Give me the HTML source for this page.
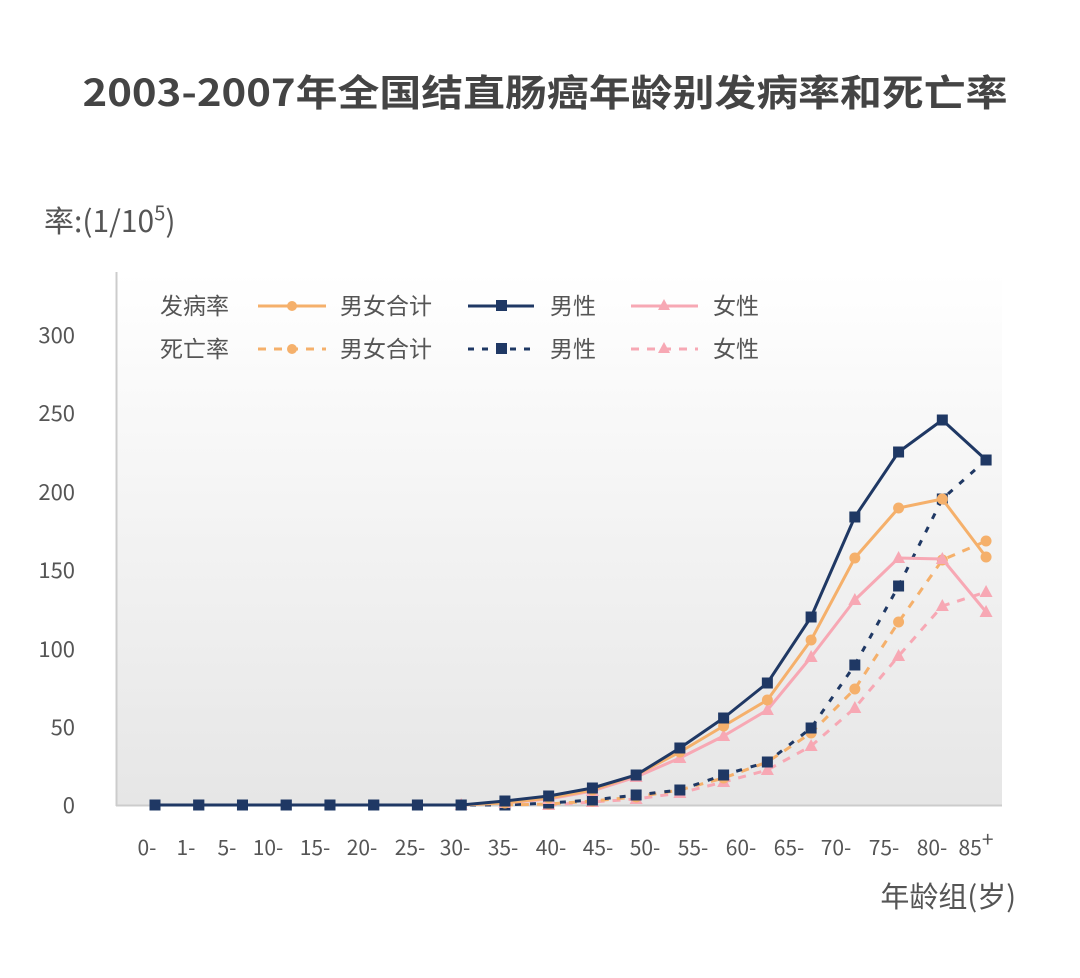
<!DOCTYPE html>
<html><head><meta charset="utf-8"><style>
body{margin:0;background:#fff;}
svg text{font-family:"Noto Sans CJK SC","Liberation Sans",sans-serif;fill:#555;}
</style></head><body>
<svg width="1080" height="973" viewBox="0 0 1080 973" xmlns="http://www.w3.org/2000/svg">
<defs><linearGradient id="g" x1="0" y1="0" x2="0" y2="1"><stop offset="0" stop-color="#ffffff"/><stop offset="1" stop-color="#e6e6e6"/></linearGradient></defs>
<text x="545" y="106" text-anchor="middle" font-size="37" font-weight="bold" textLength="925" lengthAdjust="spacingAndGlyphs" style="fill:#444">2003-2007年全国结直肠癌年龄别发病率和死亡率</text>
<text x="44" y="232" font-size="30" style="fill:#555">率:(1/10<tspan font-size="20" dy="-12">5</tspan><tspan dy="12">)</tspan></text>
<rect x="117" y="272" width="885" height="533" fill="url(#g)"/>
<line x1="116.5" y1="272" x2="116.5" y2="806" stroke="#ccc" stroke-width="2"/>
<line x1="116" y1="805.5" x2="1002" y2="805.5" stroke="#ccc" stroke-width="2"/>
<g font-size="22" text-anchor="end">
<text x="75" y="343">300</text><text x="75" y="421">250</text><text x="75" y="500">200</text><text x="75" y="578">150</text><text x="75" y="657">100</text><text x="75" y="735">50</text><text x="75" y="813">0</text>
</g>
<g font-size="21" text-anchor="middle">
<text x="147" y="855">0-</text><text x="186" y="855">1-</text><text x="227" y="855">5-</text><text x="268" y="855">10-</text><text x="315" y="855">15-</text><text x="362" y="855">20-</text><text x="410" y="855">25-</text><text x="455" y="855">30-</text><text x="503" y="855">35-</text><text x="551" y="855">40-</text><text x="598" y="855">45-</text><text x="645" y="855">50-</text><text x="693" y="855">55-</text><text x="741" y="855">60-</text><text x="789" y="855">65-</text><text x="836" y="855">70-</text><text x="884" y="855">75-</text><text x="932" y="855">80-</text><text x="976" y="855">85<tspan dy="-8">+</tspan></text>
</g>
<text x="1016" y="907" font-size="29" text-anchor="end">年龄组(岁)</text>
<g font-size="23">
<text x="160" y="314">发病率</text><text x="160" y="357">死亡率</text>
<text x="340" y="314">男女合计</text><text x="550" y="314">男性</text><text x="713" y="314">女性</text>
<text x="340" y="357">男女合计</text><text x="550" y="357">男性</text><text x="713" y="357">女性</text>
</g>
<line x1="258" y1="306" x2="326" y2="306" stroke="#f5b06b" stroke-width="3"/><circle cx="292" cy="306" r="5" fill="#f5b06b"/>
<line x1="468" y1="306" x2="534" y2="306" stroke="#1f3864" stroke-width="3"/><rect x="496" y="300" width="11" height="11" fill="#1f3864"/>
<line x1="631" y1="306" x2="698" y2="306" stroke="#f7a8b4" stroke-width="3"/><polygon points="664,299 658,310 670,310" fill="#f7a8b4"/>
<line x1="258" y1="349" x2="326" y2="349" stroke="#f5b06b" stroke-width="3" stroke-dasharray="8,8"/><circle cx="292" cy="349" r="5" fill="#f5b06b"/>
<line x1="468" y1="349" x2="534" y2="349" stroke="#1f3864" stroke-width="3" stroke-dasharray="6,8"/><rect x="496" y="343" width="11" height="11" fill="#1f3864"/>
<line x1="631" y1="349" x2="698" y2="349" stroke="#f7a8b4" stroke-width="3" stroke-dasharray="8,8"/><polygon points="664,342 658,353 670,353" fill="#f7a8b4"/>
<g id="series"></g>
</svg>
<script>
var X=function(i){return 155+i*43.74;};
var ns="http://www.w3.org/2000/svg",G=document.getElementById("series");
function el(t,a){var e=document.createElementNS(ns,t);for(var k in a)e.setAttribute(k,a[k]);G.appendChild(e);return e;}
var Z=[805,805,805,805,805,805,805];
var S=[
{c:"#f7a8b4",d:"8,8",m:"t",y:[null,null,null,null,null,null,null,null,null,805,802,799,793,782,770,746,708,656,606,592]},
{c:"#f5b06b",d:"8,8",m:"c",y:[null,null,null,null,null,null,null,null,805,804,801,797,790,778,762,733,689,622,560,541]},
{c:"#1f3864",d:"6,9",m:"s",y:Z.concat([805,805,803,800,795,790,775,762,728,665,586,499,460])},
{c:"#f7a8b4",d:"",m:"t",y:[null,null,null,null,null,null,null,805,803,799,791,777,758,736,710,657,600,558,559,612]},
{c:"#f5b06b",d:"",m:"c",y:[null,null,null,null,null,null,null,805,803,798,790,775,752,726,700,640,558,508,499,557]},
{c:"#1f3864",d:"",m:"s",y:Z.concat([805,801,796,788,775,748,718,683,617,517,452,420,460])}
];
S.forEach(function(s){var p=[];s.y.forEach(function(v,i){if(v!=null)p.push(X(i).toFixed(1)+","+v);});
var a={points:p.join(" "),fill:"none",stroke:s.c,"stroke-width":3,"stroke-linejoin":"round"};if(s.d)a["stroke-dasharray"]=s.d;el("polyline",a);
s.y.forEach(function(v,i){if(v==null)return;var x=X(i);
if(s.m=="c")el("circle",{cx:x,cy:v,r:5.5,fill:s.c});
else if(s.m=="s")el("rect",{x:x-5.5,y:v-5.5,width:11,height:11,fill:s.c});
else el("polygon",{points:x+","+(v-7)+" "+(x-6.5)+","+(v+5)+" "+(x+6.5)+","+(v+5),fill:s.c});});});
</script>
</body></html>
